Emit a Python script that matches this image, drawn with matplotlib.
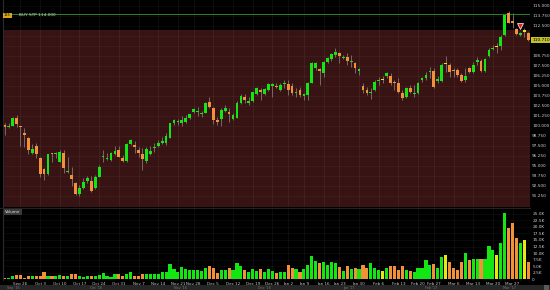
import numpy as np
import pandas as pd
import matplotlib
matplotlib.use('Agg')
import matplotlib.pyplot as plt
from matplotlib.patches import Rectangle
from matplotlib.lines import Line2D
from matplotlib.transforms import blended_transform_factory

# daily OHLC, Sep 20 2016 .. Mar 31 2017 (US holidays skipped)
opens = [100.0, 99.8, 100.0, 100.92, 99.92, 99.0, 98.42, 96.63, 97.46, 96.0,
         94.55, 93.92, 96.59, 96.5, 95.5, 96.63, 94.17, 93.84, 92.88, 91.42,
         92.17, 93.09, 93.09, 92.25, 93.63, 96.04, 95.8, 95.71, 96.42, 96.96,
         96.0, 95.59, 97.71, 97.59, 96.96, 96.42, 95.59, 96.42, 97.21, 97.46,
         97.88, 97.88, 98.5, 100.38, 100.5, 100.3, 100.42, 100.92, 101.76, 101.67,
         101.42, 101.63, 103.0, 102.26, 100.63, 100.84, 101.84, 101.67, 100.84, 101.0,
         102.8, 103.55, 102.88, 103.09, 103.92, 104.42, 103.97, 104.47, 105.05, 104.96,
         104.46, 105.21, 105.17, 105.0, 104.05, 104.46, 103.75, 103.84, 105.38, 107.17,
         107.04, 106.55, 108.0, 108.3, 108.84, 109.04, 108.42, 108.55, 107.92, 107.8,
         106.88, 104.96, 104.46, 104.05, 104.46, 105.54, 105.78, 106.21, 106.21, 105.46,
         105.3, 104.04, 103.54, 104.67, 104.0, 104.04, 105.71, 105.92, 106.67, 106.84,
         105.63, 105.63, 107.79, 107.59, 106.96, 106.96, 106.34, 105.71, 107.17, 106.75,
         108.0, 108.13, 106.88, 108.71, 109.59, 109.88, 109.96, 111.34, 114.13, 113.13,
         112.04, 111.34, 111.84, 111.63]
highs = [100.3, 100.3, 101.09, 101.34, 100.0, 99.67, 98.55, 97.67, 97.88, 96.13,
         94.67, 96.5, 96.63, 96.67, 96.96, 96.96, 96.13, 94.88, 93.0, 92.59,
         93.42, 93.75, 93.75, 93.83, 95.08, 96.96, 96.6, 96.75, 97.46, 97.46,
         96.34, 97.8, 98.34, 98.09, 97.3, 97.17, 97.3, 97.46, 97.8, 98.21,
         98.54, 99.04, 100.38, 100.79, 100.79, 101.21, 101.34, 101.46, 102.25, 102.38,
         101.8, 103.0, 103.55, 102.38, 101.13, 102.17, 102.59, 102.26, 101.55, 103.09,
         103.92, 103.92, 103.55, 104.26, 104.8, 104.67, 104.75, 105.3, 105.3, 105.29,
         105.3, 105.71, 105.71, 105.29, 104.67, 104.88, 104.04, 105.5, 108.0, 108.0,
         107.17, 108.13, 108.63, 109.04, 109.67, 109.25, 108.84, 109.13, 108.84, 108.0,
         107.17, 105.29, 104.8, 104.67, 105.71, 106.13, 106.21, 106.75, 106.55, 105.71,
         105.9, 104.46, 104.88, 105.08, 105.08, 105.5, 106.13, 106.75, 107.38, 107.17,
         106.21, 107.8, 108.71, 107.8, 107.17, 107.17, 106.54, 107.17, 107.38, 108.0,
         108.63, 108.29, 108.42, 109.67, 110.08, 110.29, 111.34, 113.96, 114.3, 114.04,
         112.17, 111.75, 112.17, 111.75]
lows = [98.84, 99.67, 99.92, 99.88, 97.51, 97.38, 96.42, 96.42, 95.92, 93.63,
        93.21, 93.84, 95.5, 95.92, 95.42, 94.05, 94.1, 92.5, 91.34, 91.25,
        92.09, 92.8, 91.75, 92.1, 93.54, 95.5, 95.7, 95.63, 96.34, 96.04,
        95.5, 95.5, 97.63, 96.54, 96.13, 94.46, 95.38, 96.34, 96.75, 97.3,
        97.71, 97.59, 98.42, 100.09, 100.09, 99.96, 100.29, 100.79, 101.54, 101.21,
        101.13, 101.55, 102.26, 100.17, 100.09, 100.0, 101.67, 100.42, 100.72, 100.92,
        102.67, 102.8, 102.59, 103.0, 103.84, 103.22, 103.84, 104.34, 103.63, 104.67,
        104.3, 104.67, 103.84, 103.84, 103.63, 103.63, 103.21, 103.21, 105.3, 106.96,
        105.09, 106.13, 107.8, 108.13, 108.63, 107.8, 108.3, 107.59, 107.38, 106.55,
        106.34, 104.05, 103.84, 103.3, 104.38, 105.09, 105.3, 105.92, 105.09, 104.46,
        104.05, 103.21, 103.42, 104.04, 103.63, 103.92, 105.5, 105.71, 105.92, 104.67,
        105.29, 105.5, 106.75, 106.04, 106.13, 106.04, 105.5, 105.5, 106.54, 106.63,
        107.59, 106.75, 106.75, 108.54, 109.46, 109.04, 109.46, 111.21, 112.8, 112.17,
        111.34, 111.21, 111.13, 110.63]
closes = [99.92, 99.96, 100.92, 100.17, 99.84, 98.92, 96.96, 97.09, 96.46, 93.92,
          93.92, 96.42, 96.42, 96.6, 96.76, 94.67, 94.34, 93.34, 91.42, 92.17,
          93.0, 93.42, 91.88, 93.63, 94.79, 96.2, 95.96, 96.54, 96.88, 96.13,
          95.59, 97.67, 98.21, 97.3, 96.63, 95.79, 97.04, 96.88, 97.38, 97.88,
          98.09, 98.75, 100.29, 100.67, 100.63, 100.72, 101.0, 101.42, 102.09, 101.84,
          101.59, 102.88, 102.38, 100.71, 100.55, 101.97, 102.17, 101.5, 101.34, 102.8,
          103.72, 103.17, 103.13, 104.17, 104.67, 104.26, 104.59, 105.22, 105.13, 104.8,
          105.09, 105.38, 104.46, 104.05, 104.21, 103.84, 103.92, 105.29, 107.88, 107.8,
          106.88, 108.0, 108.5, 108.92, 109.17, 108.71, 108.63, 108.13, 108.09, 107.17,
          107.04, 104.46, 104.13, 104.21, 105.5, 105.71, 105.78, 106.63, 105.3, 105.38,
          104.25, 103.42, 104.67, 104.25, 104.13, 105.38, 105.92, 106.34, 106.84, 104.88,
          105.79, 107.59, 107.79, 106.75, 106.79, 106.34, 105.63, 106.21, 106.75, 107.59,
          108.17, 106.88, 108.29, 109.46, 109.75, 109.88, 111.13, 113.84, 112.88, 112.79,
          111.46, 111.63, 111.84, 110.71]
# volume in thousands
volumes = [0.4, 0.6, 1.1, 1.5, 1.5, 0.6, 1.4, 1.1, 1.1, 1.1,
           2.7, 1.1, 1.1, 1.4, 1.8, 1.1, 1.1, 1.9, 1.9, 1.1,
           0.9, 1.1, 1.1, 1.4, 1.5, 2.4, 1.1, 0.9, 1.9, 2.2,
           1.4, 1.9, 2.7, 1.4, 1.4, 1.9, 1.9, 1.9, 1.9, 1.9,
           2.8, 2.8, 5.7, 4.1, 2.8, 4.7, 3.8, 3.7, 3.7, 3.4,
           3.2, 4.4, 5.2, 4.3, 2.5, 3.4, 3.7, 4.4, 3.4, 6.1,
           5.1, 3.7, 2.8, 3.8, 3.2, 3.8, 2.9, 4.1, 3.3, 2.4,
           2.8, 2.9, 5.3, 4.2, 3.8, 2.9, 3.8, 5.6, 8.9, 7.1,
           6.2, 6.5, 5.3, 6.5, 6.1, 4.6, 3.3, 5.0, 3.8, 4.4,
           3.8, 5.5, 4.3, 6.1, 4.2, 3.4, 3.0, 4.4, 5.0, 5.0,
           3.4, 5.0, 3.7, 3.2, 2.7, 4.2, 4.2, 7.5, 5.3, 6.0,
           4.2, 8.4, 9.4, 6.6, 4.4, 3.7, 6.7, 10.0, 7.2, 7.9,
           7.8, 7.8, 7.8, 12.8, 11.1, 9.1, 14.0, 25.3, 19.7, 21.6,
           15.9, 13.9, 15.1, 6.7]

holidays = ['2016-11-24', '2016-12-26', '2017-01-02', '2017-01-16', '2017-02-20']
order_price = 114.0
order_label = 'BUY STP 114.000'
zone_top = 111.96
fill_idx, fill_price = 131, 112.45

dates = pd.bdate_range('2016-09-20', '2017-03-31', freq='C', holidays=holidays)
mondays = pd.date_range('2016-09-26', '2017-03-27', freq='W-MON')
tick_pos = dates.searchsorted(mondays)
tick_lab = [f'{m:%b} {m.day}' for m in mondays]

o = np.array(opens); h = np.array(highs); l = np.array(lows); c = np.array(closes)
v = np.array(volumes)
x = np.arange(len(c))

GREEN, ORANGE, YELLOW = '#14e614', '#f39138', '#e8e810'
cols = np.where(c > o, GREEN, np.where(c < o, ORANGE, YELLOW))

W, H = 550, 290
def rect(x0, y0, x1, y1):
    return [x0 / W, 1 - y1 / H, (x1 - x0) / W, (y1 - y0) / H]

fig = plt.figure(figsize=(5.5, 2.9), dpi=100, facecolor='black')
ax = fig.add_axes(rect(3, 0, 530, 207), facecolor='black')
axv = fig.add_axes(rect(3, 209, 530, 280), facecolor='black')

xlim = (-0.43, 133.43)
ylo, yhi = 89.84, 115.71
LBL = 3.1

# price panel
ax.set_xlim(*xlim)
ax.set_ylim(ylo, yhi)
ax.axhspan(ylo, zone_top, color='#381313', zorder=0, lw=0)
pticks = np.arange(91.25, 115.01, 1.25)
for t in tick_pos:
    ax.axvline(t, color='white', alpha=0.07, lw=0.5, zorder=1)
for t in pticks:
    ax.axhline(t, color='white', alpha=0.05, lw=0.5, zorder=1)
ax.axhline(order_price, color='#2e9a2e', lw=0.6, zorder=2)

ax.vlines(x, l, h, colors='#7a6868', lw=0.7, zorder=2)
hgt = np.maximum(np.abs(c - o), 0.14)
mid = (o + c) / 2
ax.bar(x, hgt, bottom=mid - hgt / 2, width=0.7, color=cols, lw=0, zorder=3)
ax.plot(fill_idx, fill_price, marker='v', color='#e02020', markeredgecolor='white',
        markersize=4, mew=0.5, zorder=4)

ax.yaxis.tick_right()
plabels = ['' if abs(t - c[-1]) < 0.9 else f'{t:.3f}' for t in pticks]
ax.set_yticks(pticks, plabels)
ax.set_xticks([])
ax.tick_params(axis='y', length=0, pad=1.6, labelsize=LBL, labelcolor='#cfcfcf')
for s in ax.spines.values():
    s.set_visible(False)

tr = blended_transform_factory(ax.transAxes, ax.transData)
ax.text(1.004, c[-1], f'{c[-1]:.3f}', transform=tr, fontsize=LBL, color='black',
        va='center', ha='left', clip_on=False,
        bbox=dict(boxstyle='square,pad=0.2', fc='#c3c02e', ec='none'))

# volume panel
axv.set_xlim(*xlim)
axv.set_ylim(-0.27, 26.8)
vticks = np.arange(0, 25.01, 2.5)
for t in tick_pos:
    axv.axvline(t, color='white', alpha=0.07, lw=0.5, zorder=1)
for t in vticks[1:]:
    axv.axhline(t, color='white', alpha=0.06, lw=0.5, zorder=1)
axv.bar(x, v, width=0.8, color=cols, lw=0, zorder=3)
axv.yaxis.tick_right()
axv.set_yticks(vticks, ['0'] + [f'{t:.1f}K' for t in vticks[1:]])
axv.set_xticks(tick_pos, tick_lab)
axv.tick_params(axis='y', length=0, pad=1.6, labelsize=LBL, labelcolor='#cfcfcf')
axv.tick_params(axis='x', length=0, pad=1.2, labelsize=3.0, labelcolor='#c8c8c8')
for s in axv.spines.values():
    s.set_visible(False)

# chrome: labels, separator, scrollbar
fig.text(4 / W, 1 - 15.3 / H, '115', fontsize=2.6, color='black', va='center',
         bbox=dict(boxstyle='square,pad=0.2', fc='#d9a520', ec='none'))
fig.text(19 / W, 1 - 15.3 / H, order_label, fontsize=3.1, color='#d8d8d8', va='center')
fig.text(5 / W, 1 - 212 / H, 'Volume', fontsize=3.0, color='#e0e0e0', va='center',
         bbox=dict(boxstyle='square,pad=0.3', fc='#3a3a3a', ec='none'))
fig.add_artist(Line2D([2.5 / W, 2.5 / W], [1 - 280 / H, 1], color='#2a2a33', lw=0.8))
fig.add_artist(Line2D([0, 530 / W], [1 - 208 / H, 1 - 208 / H], color='#222222', lw=0.8))
fig.add_artist(Rectangle((0, 0), 1, 4.6 / H, transform=fig.transFigure,
                         color='#262626', lw=0))
fig.add_artist(Rectangle((544 / W, 0), 5 / W, 4.6 / H, transform=fig.transFigure,
                         color='#5a5a5a', lw=0))
for px, txt in [(7, "Sep '16"), (90, "Oct '16"), (174, "Nov '16"), (258, "Dec '16"),
                (343, "Jan '17"), (425, "Feb '17"), (503, "Mar '17")]:
    fig.text(px / W, 2.3 / H, txt, fontsize=2.4, color='#777777', va='center')

fig.savefig('out.png', dpi=100, facecolor='black')
